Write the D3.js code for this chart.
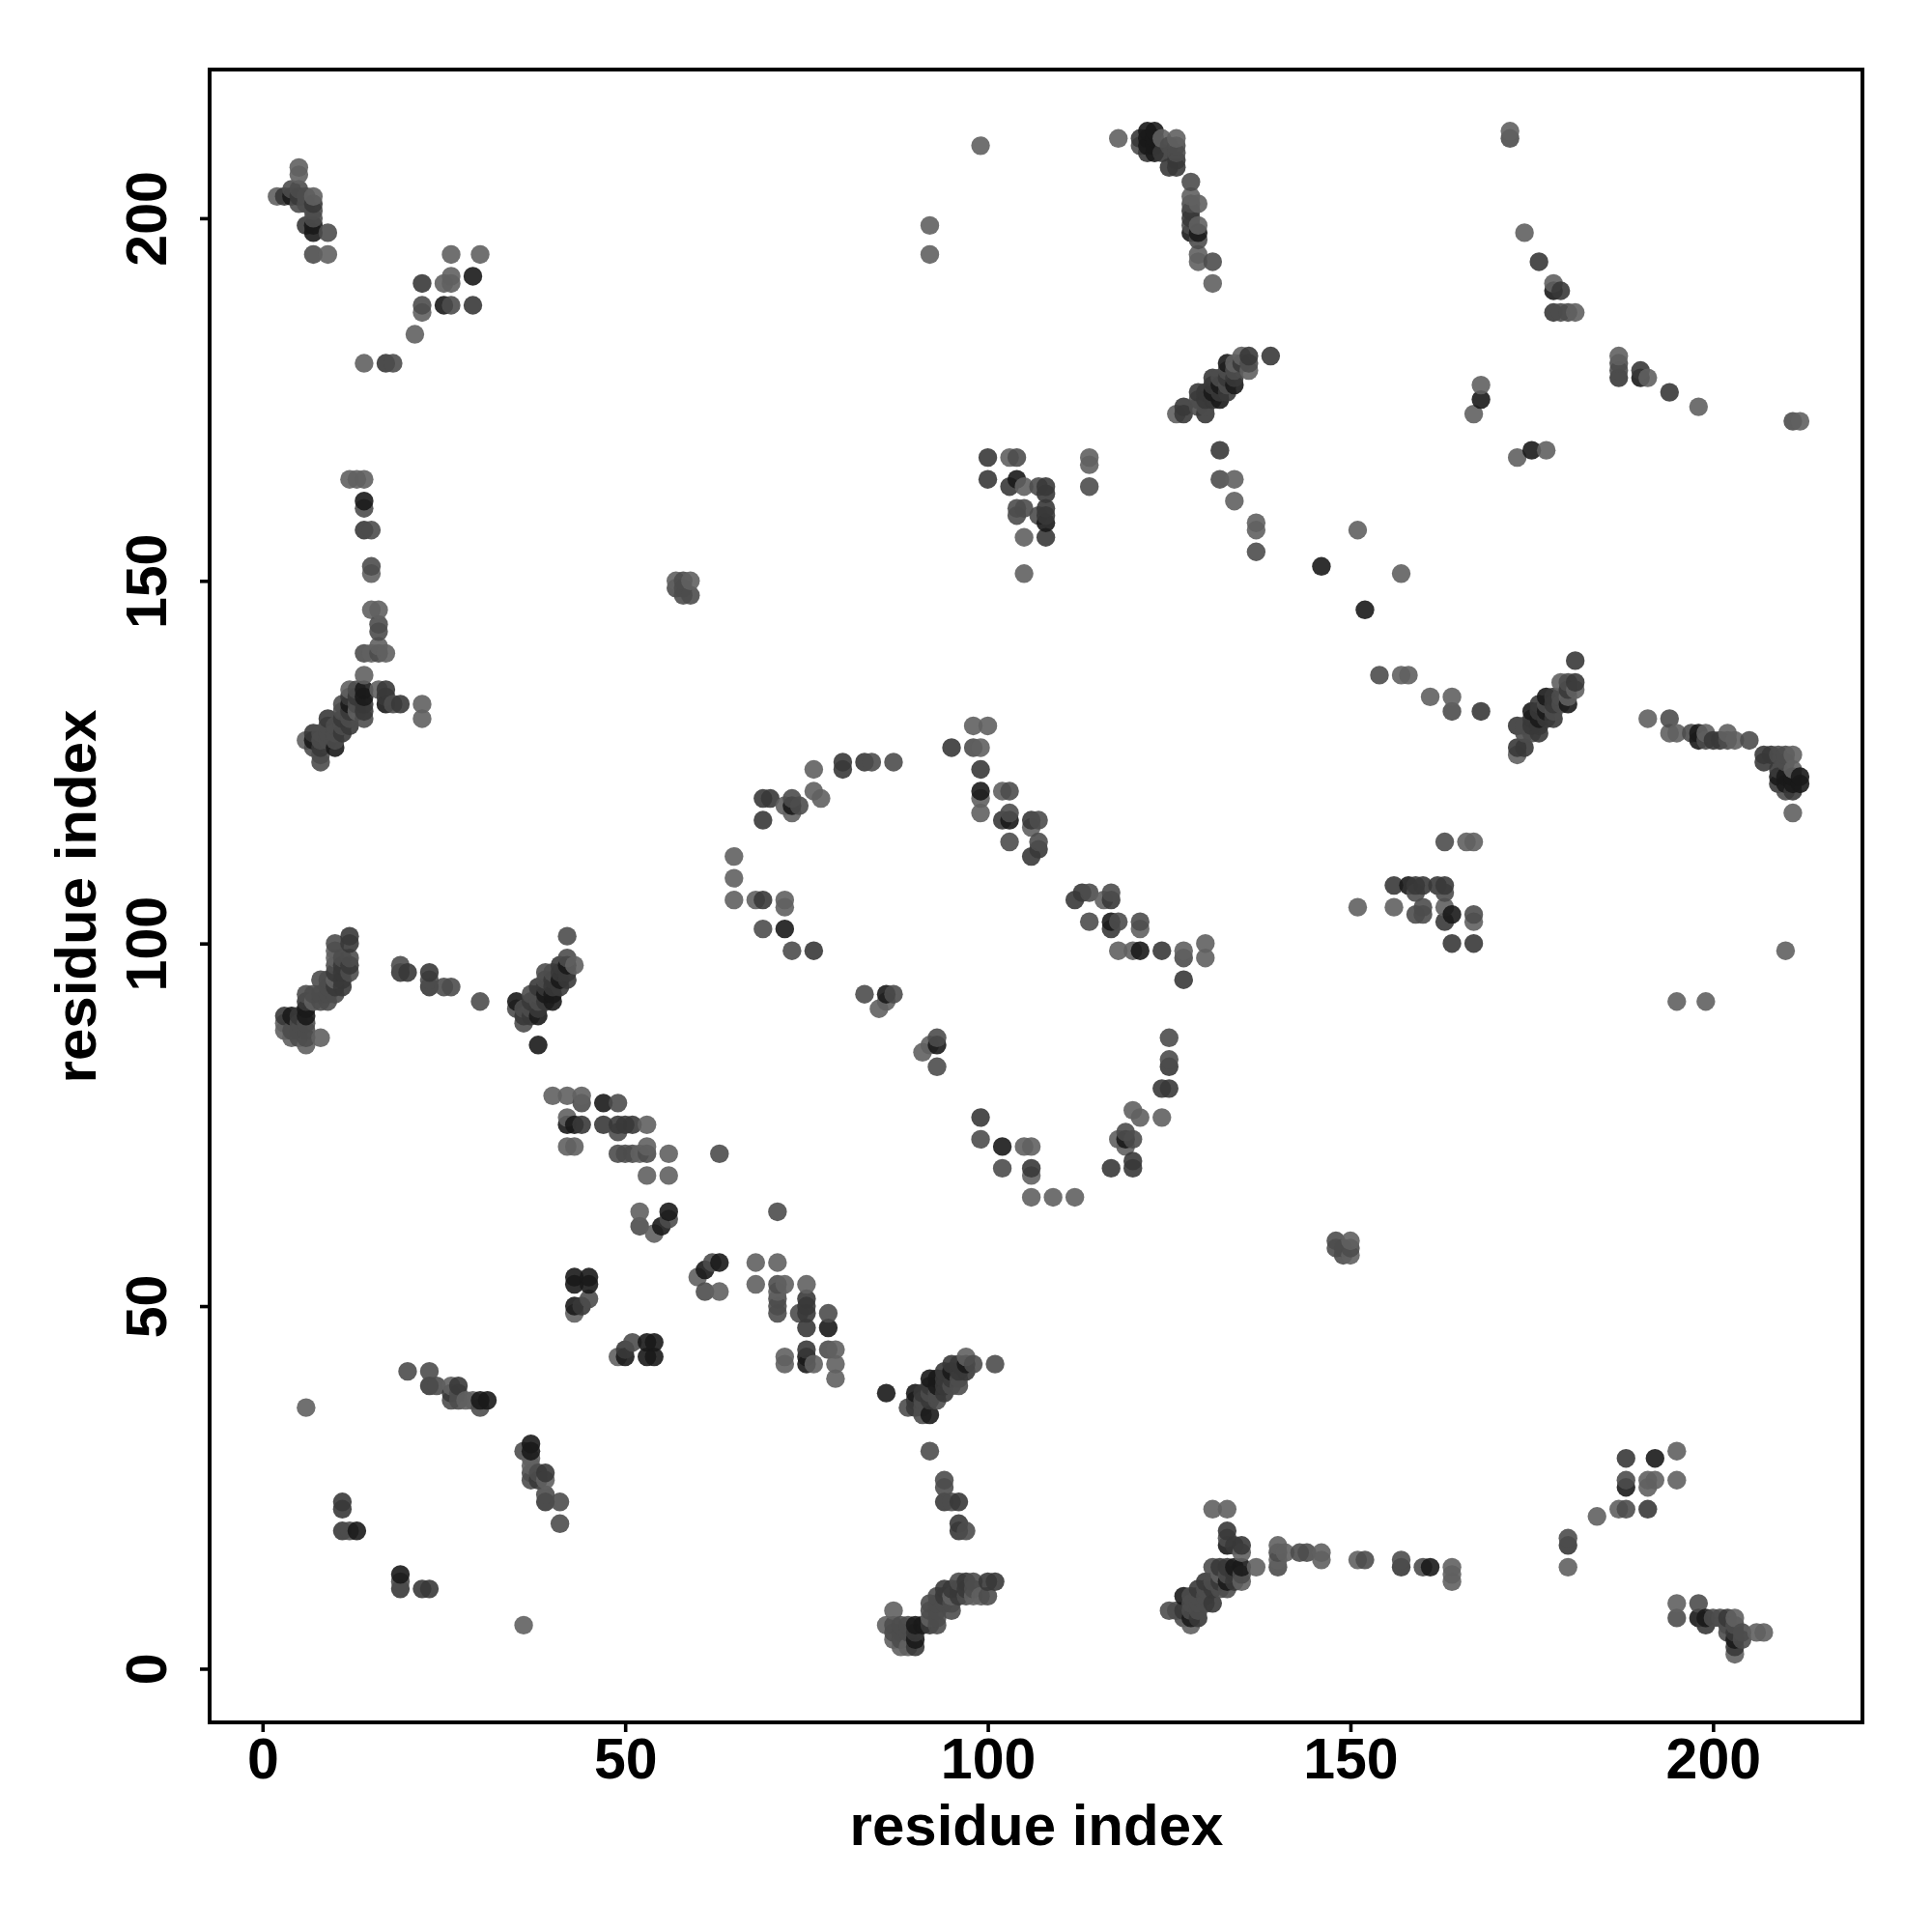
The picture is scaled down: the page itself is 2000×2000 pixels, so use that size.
<!DOCTYPE html>
<html><head><meta charset="utf-8">
<script src="https://cdn.jsdelivr.net/npm/d3@7"></script>
<style>html,body{margin:0;padding:0;background:#fff}svg{display:block}text{font-family:"Liberation Sans",Arial,sans-serif;font-weight:700;fill:#000}</style>
</head><body><div id="c"></div>
<script>
const xTicks=[0,50,100,150,200], yTicks=[0,50,100,150,200];
const xLabel="residue index", yLabel="residue index";
// contacts (i<j), one list per shade; the map is symmetric so each is also drawn as (j,i)
const lightContacts=[[2,203],[5,207],[5,206],[7,203],[9,195],[14,180],[21,184],[22,187],[25,191],[26,191],[26,192],[26,195],[30,195],[12,164],[13,164],[14,164],[15,151],[15,146],[16,146],[15,140],[16,141],[17,140],[14,137],[6,128],[12,135],[13,132],[16,135],[22,133],[22,131],[3,89],[3,88],[4,87],[6,86],[7,92],[8,87],[10,99],[10,98],[10,95],[43,97],[40,79],[42,79],[44,79],[42,76],[53,75],[42,72],[43,72],[52,71],[53,72],[53,68],[56,71],[56,68],[52,63],[54,60],[43,49],[26,39],[28,37],[29,37],[6,36],[65,112],[65,109],[65,106],[68,106],[72,106],[72,105],[72,119],[73,118],[76,121],[77,120],[76,124],[86,92],[85,91],[98,130],[100,130],[99,127],[99,120],[99,118],[102,121],[106,116],[92,199],[92,195],[99,210],[118,211],[124,211],[126,211],[128,203],[129,202],[129,199],[129,195],[129,194],[131,191],[126,173],[134,180],[135,181],[136,179],[134,164],[134,161],[137,158],[137,157],[103,167],[105,163],[105,156],[105,151],[114,167],[114,166],[172,212],[174,198],[178,191],[181,187],[168,177],[167,173],[151,157],[57,150],[59,150]];
const mediumContacts=[[4,204],[5,204],[5,202],[6,203],[6,202],[7,201],[7,200],[7,195],[9,198],[18,180],[22,188],[26,188],[14,160],[15,157],[15,152],[16,144],[16,143],[14,140],[16,140],[7,127],[8,129],[8,128],[8,126],[8,125],[9,130],[9,129],[9,128],[10,130],[10,129],[10,128],[11,133],[11,132],[11,130],[12,131],[13,135],[13,133],[14,131],[18,133],[4,88],[5,89],[5,88],[5,87],[6,93],[6,89],[6,88],[6,87],[7,93],[8,95],[8,93],[8,92],[9,92],[9,94],[9,93],[9,95],[10,100],[10,97],[10,93],[11,98],[12,98],[12,96],[19,97],[23,95],[25,94],[26,94],[30,92],[35,91],[36,91],[36,89],[37,91],[37,93],[38,93],[38,92],[39,96],[39,95],[40,96],[42,101],[42,98],[44,78],[49,78],[49,74],[49,71],[50,71],[51,71],[53,71],[63,71],[52,61],[56,62],[45,51],[20,41],[23,41],[24,39],[27,38],[26,37],[27,37],[30,36],[12,19],[69,102],[73,99],[73,120],[74,119],[84,125],[87,125],[83,93],[87,93],[98,127],[103,121],[103,118],[107,117],[103,114],[107,114],[125,210],[126,210],[121,210],[126,209],[128,205],[128,202],[128,199],[129,197],[131,194],[129,175],[129,174],[130,174],[132,178],[133,179],[133,177],[134,179],[136,180],[132,164],[137,154],[104,167],[107,163],[104,160],[105,160],[104,159],[107,159],[114,163],[172,211],[179,187],[180,187],[57,149],[58,148],[58,149],[58,150],[59,148]];
const darkContacts=[[3,203],[5,203],[6,199],[7,202],[17,180],[22,191],[29,188],[14,157],[7,129],[8,127],[9,131],[11,131],[11,129],[12,134],[12,132],[12,130],[13,134],[14,133],[14,132],[17,135],[17,134],[19,133],[3,90],[5,90],[6,92],[10,96],[10,94],[11,97],[11,96],[11,95],[11,94],[12,101],[12,100],[12,97],[19,96],[20,96],[23,96],[23,94],[36,90],[37,92],[37,90],[38,94],[38,91],[39,94],[39,92],[40,95],[40,94],[41,97],[41,96],[41,94],[42,96],[42,95],[44,75],[47,75],[49,75],[50,75],[51,75],[44,50],[23,39],[27,39],[26,38],[11,23],[11,22],[11,19],[69,106],[76,99],[69,120],[70,120],[69,117],[80,125],[80,124],[83,125],[95,127],[99,124],[102,117],[106,117],[107,113],[106,112],[121,211],[122,209],[124,209],[126,208],[126,207],[125,207],[128,201],[128,200],[127,174],[127,173],[129,176],[131,178],[131,177],[131,175],[130,176],[130,175],[130,173],[132,176],[133,178],[133,176],[134,178],[135,180],[136,181],[139,181],[132,168],[100,167],[100,164],[103,163],[108,163],[108,162],[108,160],[108,159],[108,156],[176,194],[178,187],[179,190]];
const blackContacts=[[4,203],[7,199],[7,198],[25,188],[29,192],[14,161],[7,128],[10,127],[12,133],[14,135],[14,134],[17,133],[4,90],[6,91],[6,90],[35,92],[38,90],[38,86],[39,93],[40,93],[40,92],[41,95],[42,97],[47,78],[42,75],[43,75],[55,61],[56,63],[43,54],[45,54],[43,53],[45,53],[43,50],[30,37],[31,37],[13,19],[72,102],[73,119],[86,93],[99,121],[103,117],[122,212],[123,212],[122,211],[123,211],[122,210],[123,210],[123,209],[128,198],[129,198],[131,176],[132,177],[132,175],[133,180],[134,177],[104,164],[108,158],[178,190],[168,175],[146,152]];
const shades=[["#606060",lightContacts],["#4c4c4c",mediumContacts],["#383838",darkContacts],["#1a1a1a",blackContacts]];
const xDomain=[-7.3,220.6], yDomain=[-7.4,220.5];

const svg=d3.select("#c").append("svg").attr("width",2000).attr("height",2000);
const x=d3.scaleLinear().domain(xDomain).range([217,1928]);
const y=d3.scaleLinear().domain(yDomain).range([1783,72]);

const pts=[];
shades.forEach(([fill,list])=>list.forEach(([i,j])=>{pts.push({a:i,b:j,fill});pts.push({a:j,b:i,fill});}));
pts.sort((p,q)=>d3.ascending(p.a,q.a)||d3.ascending(p.b,q.b));
svg.append("g").selectAll("circle").data(pts).join("circle")
 .attr("cx",d=>x(d.a)).attr("cy",d=>y(d.b)).attr("r",9.7)
 .attr("fill",d=>d.fill).attr("fill-opacity",0.9);

svg.append("rect").attr("x",217).attr("y",72).attr("width",1711).attr("height",1711)
 .attr("fill","none").attr("stroke","#000").attr("stroke-width",4);

const gx=svg.append("g").attr("transform","translate(0,1783)")
 .call(d3.axisBottom(x).tickValues(xTicks).tickSize(10).tickPadding(6));
gx.select(".domain").remove();
gx.selectAll("line").attr("stroke","#000").attr("stroke-width",3.6);
gx.selectAll("text").attr("font-size",59).attr("fill","#000");

const gy=svg.append("g").attr("transform","translate(217,0)")
 .call(d3.axisLeft(y).tickValues(yTicks).tickSize(10).tickPadding(0));
gy.select(".domain").remove();
gy.selectAll("line").attr("stroke","#000").attr("stroke-width",3.6);
gy.selectAll("text").attr("font-size",59).attr("fill","#000")
 .attr("text-anchor","middle").attr("dy",0).attr("x",0).attr("y",0)
 .attr("transform","translate(-45,0) rotate(-90)");

svg.append("text").attr("x",1073).attr("y",1910).attr("text-anchor","middle").attr("font-size",60).text(xLabel);
svg.append("text").attr("transform","translate(99,928) rotate(-90)").attr("text-anchor","middle").attr("font-size",60).text(yLabel);
</script></body></html>
